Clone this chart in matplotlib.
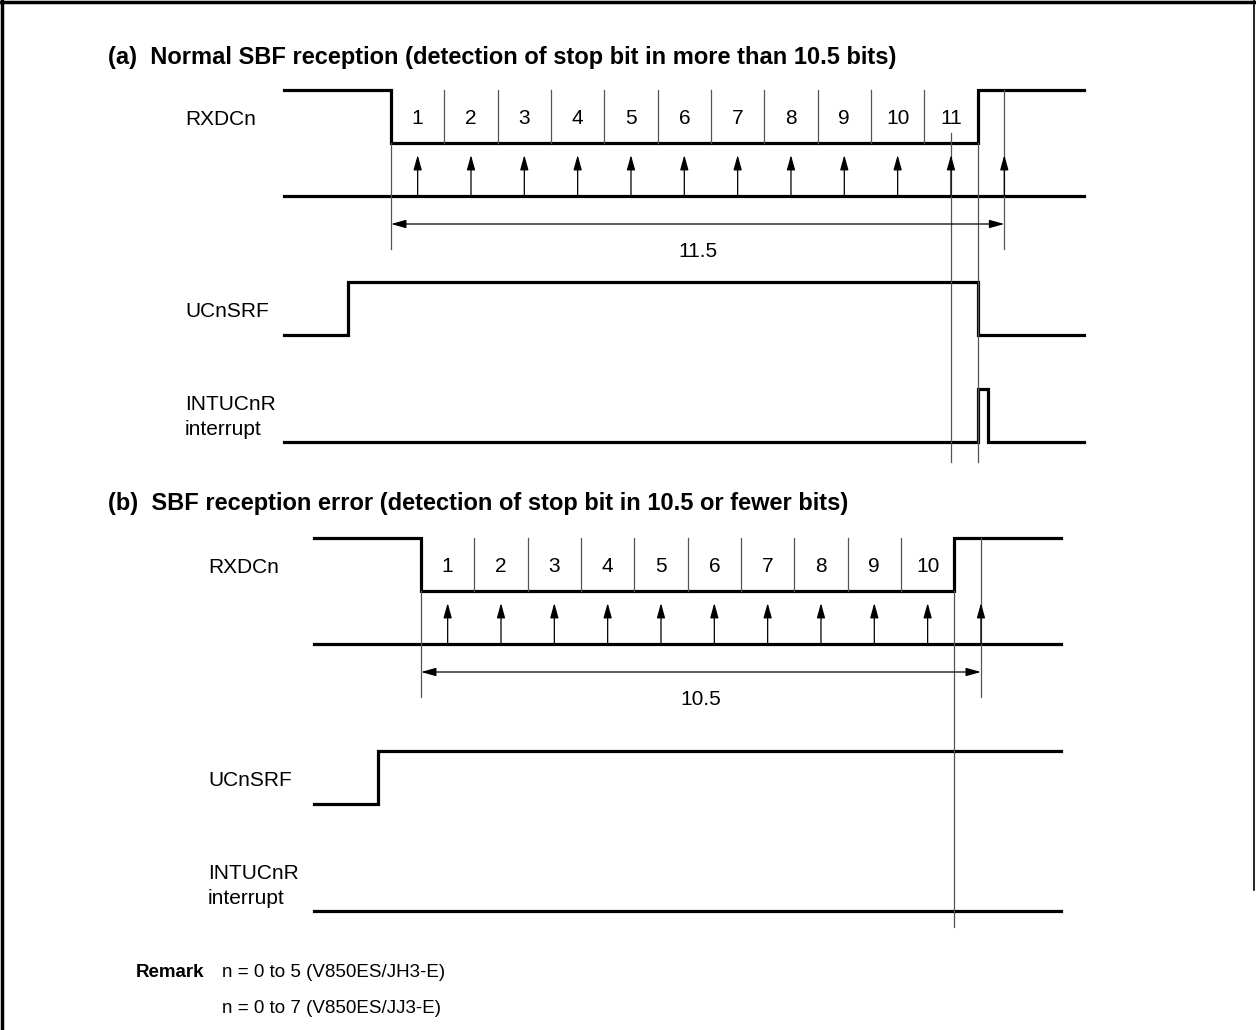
""" SBF reception timing diagram (normal / error) """

import matplotlib
matplotlib.use("Agg")
from matplotlib import pyplot as plt
import numpy as np

plt.rcParams["font.family"] = ["Liberation Sans", "DejaVu Sans"]

# ---- data: times in bit periods, signal levels 0/1 ----
rx_a_t = [-2, 0, 0, 11, 11, 13]
rx_a_lv = [1, 1, 0, 0, 1, 1]
srf_a_t = [-2, -0.8, -0.8, 11, 11, 13]
srf_a_lv = [0, 0, 1, 1, 0, 0]
int_a_t = [-2, 11, 11, 11.2, 11.2, 13]
int_a_lv = [0, 0, 1, 1, 0, 0]
bits_a = [1, 2, 3, 4, 5, 6, 7, 8, 9, 10, 11]
samples_a = [0.5, 1.5, 2.5, 3.5, 4.5, 5.5, 6.5, 7.5, 8.5, 9.5, 10.5, 11.5]
span_a = 11.5
marks_a = [10.5, 11]

rx_b_t = [-2, 0, 0, 10, 10, 12]
rx_b_lv = [1, 1, 0, 0, 1, 1]
srf_b_t = [-2, -0.8, -0.8, 12]
srf_b_lv = [0, 0, 1, 1]
int_b_t = [-2, 12]
int_b_lv = [0, 0]
bits_b = [1, 2, 3, 4, 5, 6, 7, 8, 9, 10]
samples_b = [0.5, 1.5, 2.5, 3.5, 4.5, 5.5, 6.5, 7.5, 8.5, 9.5, 10.5]
span_b = 10.5
marks_b = [10]

titles = ["(a)  Normal SBF reception (detection of stop bit in more than 10.5 bits)",
          "(b)  SBF reception error (detection of stop bit in 10.5 or fewer bits)"]
remarks = ["n = 0 to 5 (V850ES/JH3-E)", "n = 0 to 7 (V850ES/JJ3-E)"]

# ---- layout (pixels) ----
W, H = 1256, 1030
BW = 53.33      # one bit period
AMP = 53.5      # signal swing
THICK = 2.3
THIN = 0.9
GREY = "#555555"
FS = 15

fig = plt.figure(figsize=(W / 100, H / 100), dpi=100)
bg = fig.add_axes([0, 0, 1, 1])
bg.set_xlim(0, W)
bg.set_ylim(H, 0)
bg.axis("off")

# frame
bg.plot([1.5, 1.5], [0, H], color="k", lw=2.5)
bg.plot([0, W - 2], [1.5, 1.5], color="k", lw=2.5)
bg.plot([W - 2.5, W - 2.5], [0, 890], color="k", lw=1.2)


def head(style):
    return dict(arrowstyle=style + ",head_length=0.9,head_width=0.25",
                color="k", lw=THIN, shrinkA=0, shrinkB=0)


def draw_panel(lay, rx, srf, intr, bits, samples, span, marks, title):
    ax = fig.add_axes([0, 0, 1, 1])
    ax.set_xlim(-lay["x0"] / BW, (W - lay["x0"]) / BW)
    ax.set_ylim(H, 0)
    ax.axis("off")

    high = lay["rx_low"] - AMP
    # waveforms
    for (t, lv), low in zip([rx, srf, intr],
                            [lay["rx_low"], lay["srf_low"], lay["int_low"]]):
        ax.plot(t, low - AMP * np.array(lv), color="k", lw=THICK,
                solid_joinstyle="miter")
    # sample base line
    ax.plot([rx[0][0], rx[0][-1]], [lay["base"], lay["base"]], color="k", lw=THICK)

    # bit cells
    for b in bits:
        if b < len(bits):
            ax.plot([b, b], [high, lay["rx_low"]], color=GREY, lw=THIN)
        ax.text(b - 0.5, lay["rx_low"] - 19, str(b), fontsize=FS,
                ha="center", va="baseline")
    # sampling arrows
    for s in samples:
        ax.annotate("", xy=(s, lay["rx_low"] + 12), xytext=(s, lay["base"]),
                    arrowprops=head("-|>"))
    # span
    ax.plot([0, 0], [lay["rx_low"], lay["vbot"]], color=GREY, lw=THIN)
    ax.plot([span, span], [high, lay["vbot"]], color=GREY, lw=THIN)
    ax.annotate("", xy=(0, lay["dim"]), xytext=(span, lay["dim"]),
                arrowprops=head("<|-|>"))
    ax.text(span / 2, lay["dim"] + 33, f"{span:g}", fontsize=FS,
            ha="center", va="baseline")
    # marker lines through lower rows
    for m in marks:
        top = lay["rx_low"] if m == int(m) else lay["rx_low"] - 10
        ax.plot([m, m], [top, lay["mbot"]], color=GREY, lw=THIN)

    # titles and row labels
    bg.text(108, lay["title"], title, fontsize=17, fontweight="bold",
            va="baseline")
    lx = lay["lx"]
    bg.text(lx, lay["rx_low"] - 18, "RXDCn", fontsize=FS, va="baseline")
    bg.text(lx, lay["srf_low"] - 18, "UCnSRF", fontsize=FS, va="baseline")
    bg.text(lx, lay["int_low"] - 32, "INTUCnR", fontsize=FS, va="baseline")
    bg.text(lx, lay["int_low"] - 7, "interrupt", fontsize=FS, va="baseline")


lay_a = dict(x0=391, rx_low=143, base=196, dim=224, vbot=249, srf_low=335,
             int_low=442, mbot=462, lx=185, title=64)
lay_b = dict(x0=421, rx_low=591, base=644, dim=672, vbot=697, srf_low=804,
             int_low=911, mbot=927, lx=208, title=510)

draw_panel(lay_a, (rx_a_t, rx_a_lv), (srf_a_t, srf_a_lv), (int_a_t, int_a_lv),
           bits_a, samples_a, span_a, marks_a, titles[0])
draw_panel(lay_b, (rx_b_t, rx_b_lv), (srf_b_t, srf_b_lv), (int_b_t, int_b_lv),
           bits_b, samples_b, span_b, marks_b, titles[1])

bg.text(136, 977, "Remark", fontsize=13.5, fontweight="bold", va="baseline")
bg.text(222, 977, remarks[0], fontsize=13.5, va="baseline")
bg.text(222, 1013, remarks[1], fontsize=13.5, va="baseline")

fig.savefig("out.png", dpi=100)
